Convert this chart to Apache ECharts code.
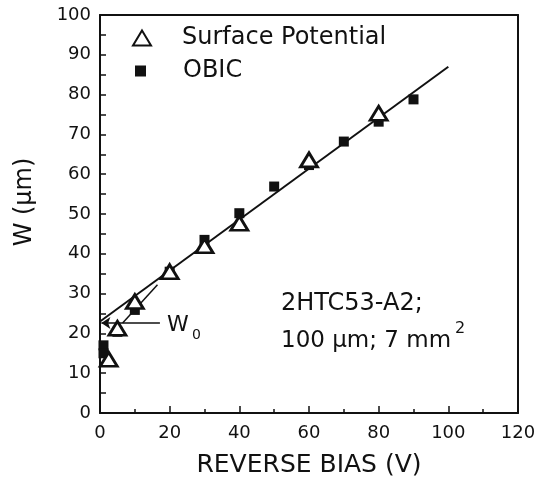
<!DOCTYPE html>
<html><head><meta charset="utf-8">
<script src="https://cdn.jsdelivr.net/npm/echarts@6/dist/echarts.min.js"></script>
<style>html,body{margin:0;padding:0;background:#fff}#c{width:544px;height:481px}</style>
</head><body><div id="c"></div>
<script>
const xTickLabels = [0, 20, 40, 60, 80, 100, 120];
const yTickLabels = [0, 10, 20, 30, 40, 50, 60, 70, 80, 90, 100];
const surfaceBias = [2.5, 5, 10, 20, 30, 40, 60, 80];
const surfaceW    = [13.5, 21.3, 28, 35.5, 42, 47.7, 63.6, 75.3];
const obicBias = [1, 1, 5, 10, 20, 30, 40, 50, 60, 70, 80, 90];
const obicW    = [17, 15, 20.4, 25.9, 35.5, 43.5, 50.2, 56.9, 62.3, 68.2, 73.2, 78.8];
const fitBias = [0, 100];
const fitW = [23, 87];
const w0Arrow = [[17.2, 22.6], [0.4, 22.6]];
const w0Guide = [[16.5, 32.2], [6.5, 22.6]];

const FONT = 'DejaVu Sans';
const INK = '#111';
const chart = echarts.init(document.getElementById('c'), null, {renderer: 'canvas'});
const zip = (a, b) => a.map((v, i) => [v, b[i]]);

chart.setOption({
  backgroundColor: '#fff',
  animation: false,
  grid: {left: 100, right: 26, top: 15, bottom: 68, containLabel: false, outerBoundsMode: 'none'},
  legend: [
    {data: ['Surface Potential'], left: 132, top: 25, padding: 0, orient: 'vertical',
     itemWidth: 18, itemHeight: 15,
     textStyle: {fontFamily: FONT, fontSize: 24, lineHeight: 26, color: INK, padding: [0, 0, 0, 26]}},
    {data: ['OBIC'], left: 135, top: 58, padding: 0, orient: 'vertical',
     itemWidth: 11, itemHeight: 11,
     textStyle: {fontFamily: FONT, fontSize: 24, lineHeight: 26, color: INK, padding: [0, 0, 0, 32]}}
  ],
  xAxis: [{
    type: 'value', min: 0, max: 120, interval: 20,
    name: 'REVERSE BIAS (V)', nameLocation: 'middle', nameGap: 40,
    nameTextStyle: {fontFamily: FONT, fontSize: 25, color: INK},
    axisLine: {lineStyle: {color: INK, width: 2}},
    axisTick: {inside: true, length: 7, lineStyle: {color: INK, width: 1.5}},
    minorTick: {show: true, splitNumber: 2, length: 4, lineStyle: {color: INK, width: 1.5}},
    axisLabel: {fontFamily: FONT, fontSize: 18, color: INK, margin: 11,
      formatter: v => xTickLabels.includes(v) ? String(v) : ''},
    splitLine: {show: false}
  }, {
    type: 'value', position: 'top', min: 0, max: 120,
    axisLine: {show: true, onZero: false, lineStyle: {color: INK, width: 2}},
    axisTick: {show: false}, axisLabel: {show: false}, splitLine: {show: false}
  }],
  yAxis: [{
    type: 'value', min: 0, max: 100, interval: 10,
    axisLine: {show: true, lineStyle: {color: INK, width: 2}},
    axisTick: {show: true, inside: true, length: 6, lineStyle: {color: INK, width: 1.5}},
    minorTick: {show: true, splitNumber: 2, length: 6, lineStyle: {color: INK, width: 1.5}},
    axisLabel: {fontFamily: FONT, fontSize: 18, color: INK, margin: 9,
      formatter: v => yTickLabels.includes(v) ? String(v) : ''},
    splitLine: {show: false}
  }, {
    type: 'value', position: 'right', min: 0, max: 100,
    axisLine: {show: true, onZero: false, lineStyle: {color: INK, width: 2}},
    axisTick: {show: false}, axisLabel: {show: false}, splitLine: {show: false}
  }],
  series: [
    {name: 'fit', type: 'line', data: zip(fitBias, fitW), showSymbol: false, symbol: 'none',
     lineStyle: {color: INK, width: 2}, z: 1, silent: true},
    {name: 'w0guide', type: 'line', data: w0Guide, showSymbol: false, symbol: 'none',
     lineStyle: {color: INK, width: 1.5}, z: 1, silent: true,
     markLine: {silent: true, symbol: ['none', 'arrow'], symbolSize: [9, 9],
       label: {show: false}, lineStyle: {color: INK, width: 1.5, type: 'solid'},
       data: [[{coord: w0Arrow[0]}, {coord: w0Arrow[1]}]]}}
    ,
    {name: 'OBIC', type: 'scatter', data: zip(obicBias, obicW), symbol: 'rect', symbolSize: 10,
     itemStyle: {color: INK, opacity: 1}, z: 3},
    {name: 'Surface Potential', type: 'scatter', data: zip(surfaceBias, surfaceW), symbol: 'triangle',
     symbolSize: [17, 14], itemStyle: {color: '#fff', borderColor: INK, borderWidth: 2.8, opacity: 1}, z: 4}
  ],
  graphic: [
    {type: 'text', left: 281, top: 292, style: {text: '2HTC53-A2;', font: '24px "DejaVu Sans"', fill: INK}},
    {type: 'text', left: 281, top: 330, style: {text: '100 µm; 7 mm', font: '23px "DejaVu Sans"', fill: INK}},
    {type: 'text', left: 455, top: 321, style: {text: '2', font: '16px "DejaVu Sans"', fill: INK}},
    {type: 'text', left: 167, top: 314, style: {text: 'W', font: '22px "DejaVu Sans"', fill: INK}},
    {type: 'text', left: 192, top: 328, style: {text: '0', font: '14px "DejaVu Sans"', fill: INK}},
    {type: 'text', x: 25, y: 202, rotation: Math.PI / 2,
     style: {text: 'W (µm)', font: '24px "DejaVu Sans"', fill: INK, align: 'center', verticalAlign: 'middle'}}
  ]
});
</script></body></html>
